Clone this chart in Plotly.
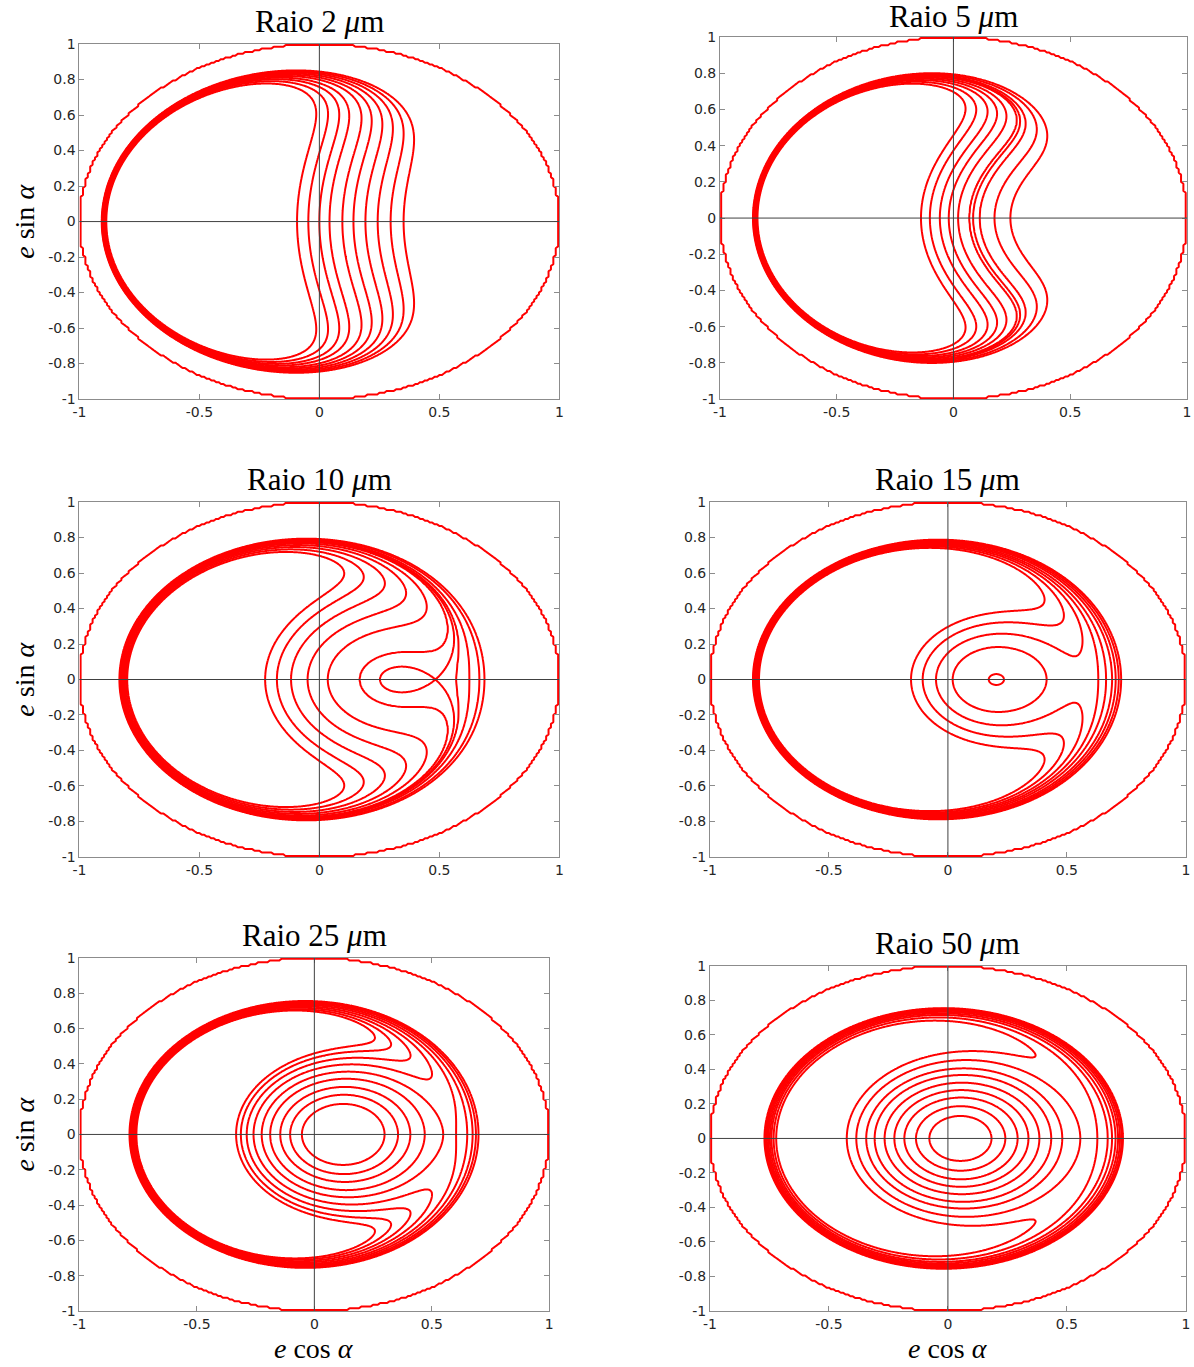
import numpy as np
import plotly.graph_objects as go

FIG_W, FIG_H = 1194, 1367
# page placement of the figure: default body margin, and the page-to-window scale
BODY_MARGIN = 8
SCALE_X, SCALE_Y = 1194 / 1210, 1367 / 1383

# Grain radius (micrometres) of each panel and the matching secular-model coefficients
RADII_UM = [2, 5, 10, 15, 25, 50]
RAD_PRESSURE = [0.88, 0.352, 0.176, 0.1173, 0.0704, 0.031]    # radiation-pressure strength C
OBLATENESS = 0.40                                             # planetary oblateness strength W

# e*cos(alpha) where each drawn level curve crosses e*sin(alpha) = 0
CROSS_R2 = [-0.093, -0.046, 0.0, 0.042, 0.096, 0.142, 0.192, 0.243, 0.297, 0.351]
CROSS_R5 = [-0.139, -0.101, -0.058, -0.020, 0.020, 0.069, 0.084, 0.112, 0.176, 0.244]
CROSS_R10 = [-0.226, -0.177, -0.118, -0.049, 0.035, 0.169, 0.483, 0.570, 0.625, 0.667, 0.688]
CROSS_R15 = [-0.155, -0.106, -0.050, 0.020, 0.236, 0.690, 0.705, 0.718, 0.728]
CROSS_R25 = [-0.333, -0.313, -0.288, -0.259, -0.224, -0.188, -0.145, -0.103, -0.053]
CROSS_R50 = [-0.425, -0.385, -0.343, -0.308, -0.266, -0.225, -0.183, -0.134, -0.078]
CROSSINGS = [CROSS_R2, CROSS_R5, CROSS_R10, CROSS_R15, CROSS_R25, CROSS_R50]

X_TICKS = [-1, -0.5, 0, 0.5, 1]
X_TICK_TEXT = ["-1", "-0.5", "0", "0.5", "1"]
Y_TICKS = [-1, -0.8, -0.6, -0.4, -0.2, 0, 0.2, 0.4, 0.6, 0.8, 1]
Y_TICK_TEXT = ["-1", "-0.8", "-0.6", "-0.4", "-0.2", "0", "0.2", "0.4", "0.6", "0.8", "1"]

# window-pixel boxes (left, right, top, bottom) of the six axes
PANEL_BOX = [(80, 558, 44, 399), (718, 1183, 37, 399),
             (80, 558, 502, 857), (708, 1182, 502, 857),
             (80, 548, 958, 1311), (708, 1182, 966, 1311)]
TITLE_LIFT = [3, 1, 3, 3, 3, 3]

RED = "#ff0000"
SERIF = "Liberation Serif"
SANS = "DejaVu Sans"


def px_x(px):
    return min(max((px / SCALE_X - BODY_MARGIN) / FIG_W, 0.0), 1.0)


def px_y(py):
    return min(max(1 - (py / SCALE_Y - BODY_MARGIN) / FIG_H, 0.0), 1.0)


def hamiltonian(x, y, c, w):
    u = np.clip(1.0 - x * x - y * y, 1e-3, None)
    return np.sqrt(u) + (w / 3.0) * u ** -1.5 + c * x


def to_level_index(z, levels):
    """Monotone piecewise-linear map sending levels[i] -> i (linear beyond the ends)."""
    lv = np.asarray(levels, dtype=float)
    idx = np.arange(len(lv), dtype=float)
    out = np.interp(z, lv, idx)
    lo = z < lv[0]
    hi = z > lv[-1]
    out[lo] = (z[lo] - lv[0]) / (lv[1] - lv[0])
    out[hi] = idx[-1] + (z[hi] - lv[-1]) / (lv[-1] - lv[-2])
    return out


grid = np.linspace(-1.0, 1.0, 401)
GX, GY = np.meshgrid(grid, grid)
coarse = np.linspace(-1.0, 1.0, 201)
CX, CY = np.meshgrid(coarse, coarse)
inside_disc = (CX ** 2 + CY ** 2 < 1.0).astype(np.float32)

fig = go.Figure()
layout = dict(width=FIG_W, height=FIG_H, margin=dict(l=0, r=0, t=0, b=0),
              paper_bgcolor="white", plot_bgcolor="white", showlegend=False)
annotations = []
shapes = []

for i, (r, c, cross, box) in enumerate(zip(RADII_UM, RAD_PRESSURE, CROSSINGS, PANEL_BOX)):
    n = i + 1
    xa = "x" if n == 1 else f"x{n}"
    ya = "y" if n == 1 else f"y{n}"
    left, right, top, bottom = box
    xdom = [px_x(left), px_x(right)]
    ydom = [px_y(bottom), px_y(top)]

    levels = np.unique(np.round(hamiltonian(np.array(cross), 0.0, c, OBLATENESS), 6))
    z = hamiltonian(GX, GY, c, OBLATENESS)
    zi = to_level_index(z, levels).astype(np.float32)

    fig.add_trace(go.Contour(
        x=grid.astype(np.float32), y=grid.astype(np.float32), z=zi,
        autocontour=False,
        contours=dict(start=0, end=len(levels) - 1, size=1, coloring="lines"),
        line=dict(width=2, smoothing=0.8),
        colorscale=[[0, RED], [1, RED]], showscale=False, hoverinfo="skip",
        xaxis=xa, yaxis=ya))

    # boundary e = 1
    fig.add_trace(go.Contour(
        x=coarse.astype(np.float32), y=coarse.astype(np.float32), z=inside_disc,
        autocontour=False,
        contours=dict(start=0.5, end=0.5, size=1, coloring="lines"),
        line=dict(width=2, smoothing=0),
        colorscale=[[0, RED], [1, RED]], showscale=False, hoverinfo="skip",
        xaxis=xa, yaxis=ya))

    axis_common = dict(range=[-1, 1], showgrid=False, zeroline=False, showline=True,
                       linecolor="#8c8c8c", linewidth=1, mirror="ticks", ticks="inside",
                       ticklen=5, tickcolor="#8c8c8c", ticklabeloverflow="allow",
                       tickfont=dict(family=SANS, size=14, color="#262626"))
    layout[f"xaxis{'' if n == 1 else n}"] = dict(axis_common, domain=xdom, anchor=ya,
                                                 tickvals=X_TICKS, ticktext=X_TICK_TEXT)
    layout[f"yaxis{'' if n == 1 else n}"] = dict(axis_common, domain=ydom, anchor=xa,
                                                 tickvals=Y_TICKS, ticktext=Y_TICK_TEXT)

    # reference axes through the origin
    shapes.append(dict(type="line", xref=xa, yref=ya, x0=0, x1=0, y0=-1, y1=1,
                       line=dict(color="#404040", width=1), layer="above"))
    shapes.append(dict(type="line", xref=xa, yref=ya, x0=-1, x1=1, y0=0, y1=0,
                       line=dict(color="#404040", width=1), layer="above"))

    annotations.append(dict(text=f"Raio {r} <i>μ</i>m", xref="paper", yref="paper",
                            x=(xdom[0] + xdom[1]) / 2, y=ydom[1], xanchor="center",
                            yanchor="bottom", yshift=TITLE_LIFT[i], showarrow=False,
                            font=dict(family=SERIF, size=31, color="black")))
    if n % 2 == 1:
        annotations.append(dict(text="<i>e</i> sin <i>α</i>", xref="paper", yref="paper",
                                x=px_x(25), y=(ydom[0] + ydom[1]) / 2, textangle=-90,
                                xanchor="center", yanchor="middle", showarrow=False,
                                font=dict(family=SERIF, size=28, color="black")))
    if n >= 5:
        annotations.append(dict(text="<i>e</i> cos <i>α</i>", xref="paper", yref="paper",
                                x=(xdom[0] + xdom[1]) / 2, y=px_y(1349),
                                xanchor="center", yanchor="middle", showarrow=False,
                                font=dict(family=SERIF, size=28, color="black")))

layout["annotations"] = annotations
layout["shapes"] = shapes
fig.update_layout(**layout)
fig.write_html("out.html")
